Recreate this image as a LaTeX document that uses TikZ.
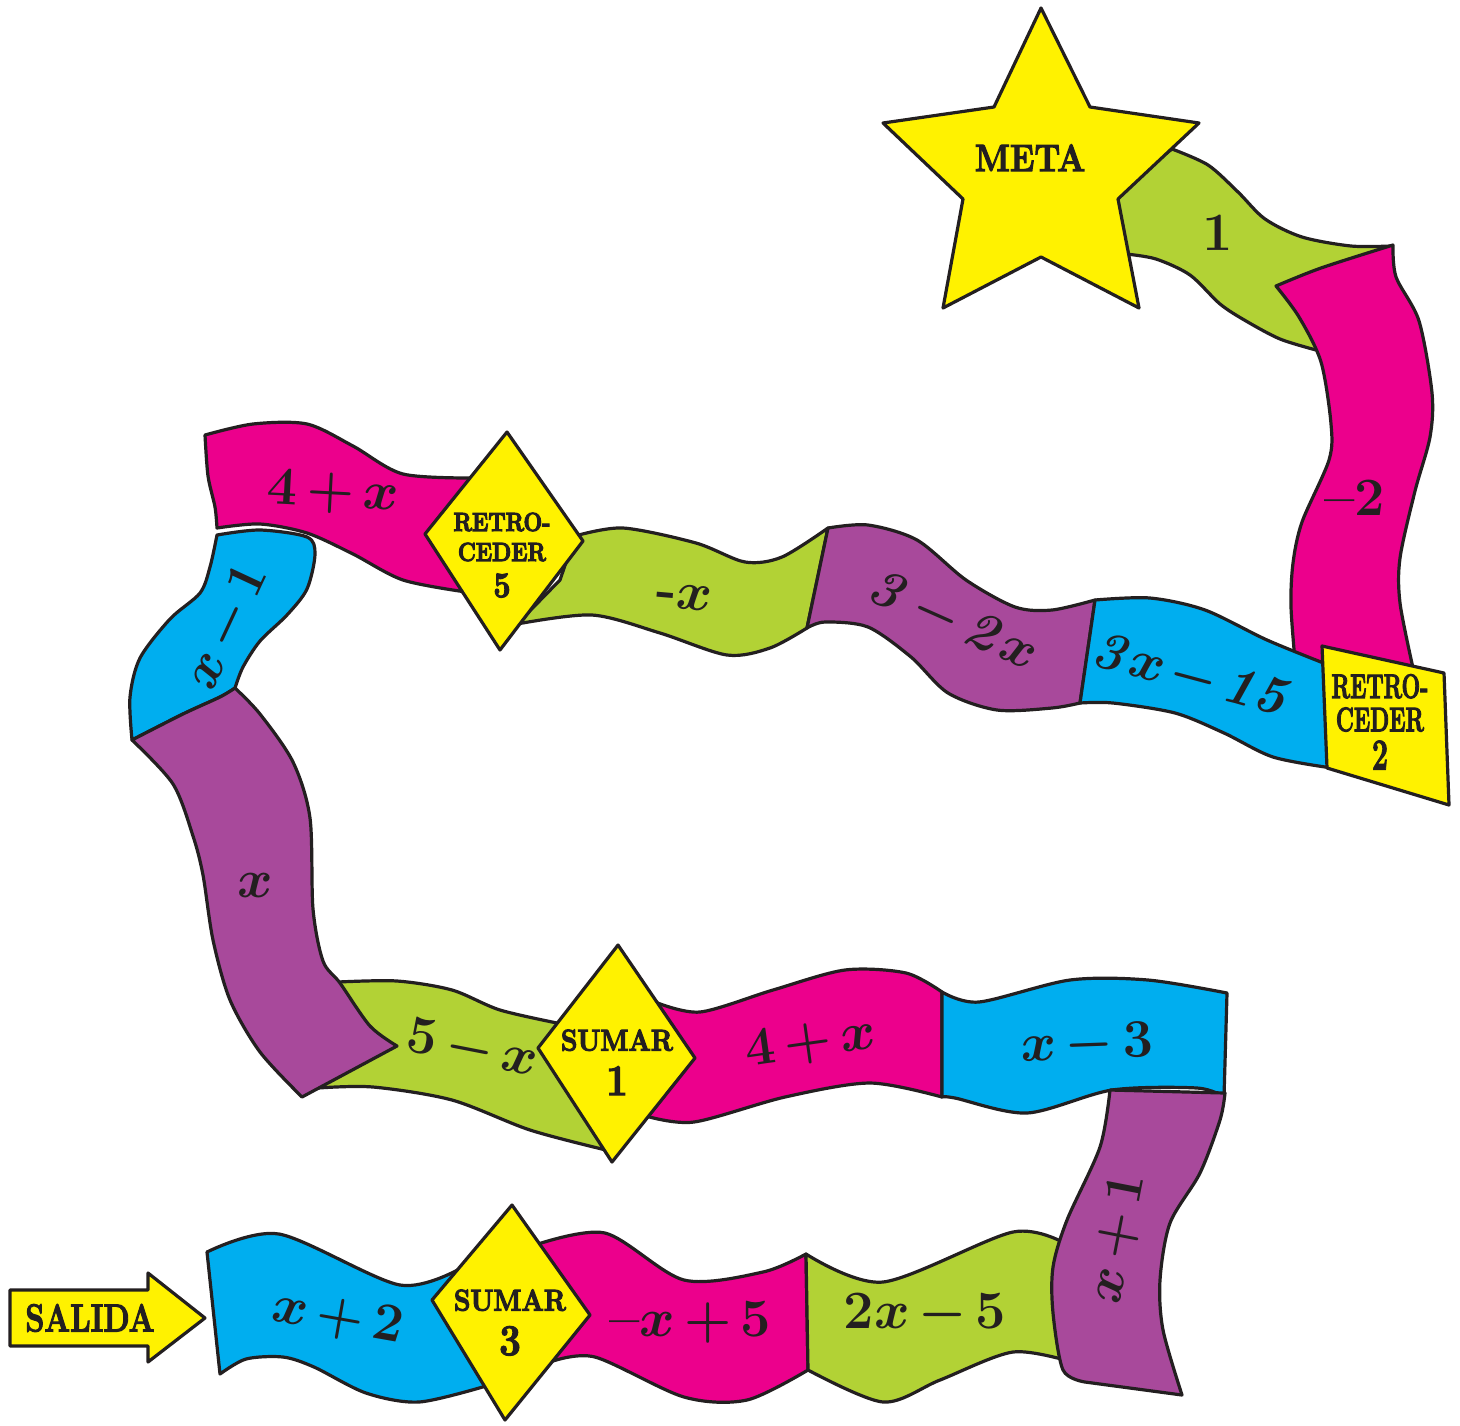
\RequirePackage{fix-cm}
\documentclass[tikz,border=0pt]{standalone}
\usepackage{amsmath}
\usepackage{bm}

\definecolor{amarillo}{HTML}{FFF200}
\definecolor{rosa}{HTML}{EC008C}
\definecolor{celeste}{HTML}{00AEEF}
\definecolor{verde}{HTML}{B2D235}
\definecolor{morado}{HTML}{A8499B}
\definecolor{ink}{HTML}{231F20}

\newcommand{\cmbx}{\fontencoding{OT1}\fontfamily{cmr}\fontseries{bx}\fontshape{n}\selectfont}
\newcommand{\cardfont}[2]{\fontsize{#1}{#2}\cmbx}
\newcommand{\lblfont}{\fontsize{27}{27}\cmbx\medmuskip=3mu\relax}
\newcommand{\heavy}[1]{\special{pdf:literal direct 2 Tr 0.6 w}#1\special{pdf:literal direct 0 Tr}}

\begin{document}
\begin{tikzpicture}[x=0.5pt, y=-0.5pt,
        tile/.style={draw=ink, line width=1.6pt, line join=round},
        card/.style={tile, fill=amarillo},
        lbl/.style={text=ink, inner sep=0pt, font=\lblfont},
        cardlbl/.style={text=ink, inner sep=0pt, transform shape},
        ]

        \useasboundingbox (0,0) rectangle (1460,1425);

        % upper left loop
        \filldraw[tile, fill=rosa] plot[smooth] coordinates {(205,435) (253,424) (307,424) (353,446) (403,474) (476,478)}
          -- (470,540)
          -- plot[smooth] coordinates {(466,592) (403,580) (353,554) (307,533) (260,524) (217,528)}
          -- plot[smooth] coordinates {(217,528) (215,507) (208,476) (205,435)} -- cycle;
        \filldraw[tile, fill=celeste] plot[smooth] coordinates {(217,535) (260,530) (307,537) (315,554) (307,589) (287,615) (260,641) (243,667) (235,688)}
          -- plot[smooth] coordinates {(235,688) (220,697) (183,714) (132,740)}
          -- plot[smooth] coordinates {(132,740) (130,697) (140,658) (170,619) (200,593) (210,567) (217,535)} -- cycle;
        \filldraw[tile, fill=verde] plot[smooth] coordinates {(338,982) (397,981) (452,990) (500,1010) (562,1024)}
          -- (585,1080)
          -- plot[smooth] coordinates {(606,1150) (530,1130) (452,1100) (373,1087) (318,1088)}
          -- (330,1040) -- cycle;
        \filldraw[tile, fill=morado] plot[smooth] coordinates {(132,740) (183,714) (220,697) (235,688)}
          -- plot[smooth] coordinates {(235,688) (260,714) (293,762) (310,818) (313,909) (323,961) (340,983) (370,1026) (397,1046)}
          -- (302,1097)
          -- plot[smooth] coordinates {(302,1097) (260,1052) (230,1000) (213,940) (203,875) (193,836) (173,784) (132,740)} -- cycle;
        \filldraw[tile, fill=verde] plot[smooth] coordinates {(575,536) (623,528) (696,543) (745,562) (782,557) (828,528)}
          -- (807,628)
          -- plot[smooth] coordinates {(807,628) (770,648) (727,655) (660,633) (592,615) (517,624)}
          -- (560,580) -- cycle;
        \filldraw[card] (507,432) -- (583,541) -- (500,650) -- (425,534) -- cycle;
        \filldraw[tile, fill=morado] plot[smooth] coordinates {(828,528) (868,525) (917,540) (966,580) (1015,607) (1052,610) (1095,600)}
          -- (1080,703)
          -- plot[smooth] coordinates {(1080,703) (1052,708) (997,710) (948,693) (911,657) (868,627) (825,622) (807,628)} -- cycle;

        % right column up to the star
        \filldraw[tile, fill=verde] plot[smooth] coordinates {(1172,149) (1208,165) (1238,192) (1265,219) (1302,237) (1351,246) (1391,246)}
          -- (1340,300)
          -- plot[smooth] coordinates {(1316,350) (1280,339) (1246,321) (1220,304) (1190,275) (1156,259) (1126,254)}
          -- (1110,195) -- cycle;
        \filldraw[tile, fill=rosa] plot[smooth] coordinates {(1276,286) (1321,268) (1393,245)}
          -- plot[smooth] coordinates {(1393,245) (1396,277) (1419,321) (1432,393) (1430,437) (1415,491) (1400,558) (1400,603) (1413,668)}
          -- (1350,690)
          -- plot[smooth] coordinates {(1296,672) (1291,607) (1293,563) (1302,522) (1329,460) (1331,424) (1321,362) (1299,317) (1276,286)} -- cycle;
        \filldraw[tile, fill=celeste] plot[smooth] coordinates {(1095,600) (1150,598) (1205,610) (1267,640) (1326,664)}
          -- (1345,710)
          -- plot[smooth] coordinates {(1332,768) (1273,757) (1224,733) (1175,713) (1113,703) (1080,703)} -- cycle;
        \filldraw[card] (1322,646) -- (1444,673) -- (1449,805) -- (1327,768) -- cycle;
        \filldraw[card] (1041,8) -- (1090,107) -- (1199,123) -- (1118,199) -- (1139,308)
          -- (1041,257) -- (943,308) -- (963,199) -- (883,123) -- (994,107) -- cycle;

        % middle row
        \filldraw[tile, fill=rosa] plot[smooth] coordinates {(655,1002) (700,1012) (773,990) (845,970) (906,973) (942,992)}
          -- (942,1097)
          -- plot[smooth] coordinates {(942,1097) (870,1083) (785,1097) (694,1122) (646,1116)}
          -- (640,1060) -- cycle;
        \filldraw[tile, fill=celeste] plot[smooth] coordinates {(942,992) (979,1002) (1070,980) (1148,980) (1227,993)}
          -- (1224,1097)
          -- plot[smooth] coordinates {(1224,1097) (1197,1088) (1112,1090) (1027,1113) (955,1098) (942,1097)} -- cycle;
        \filldraw[card] (618,945) -- (695,1058) -- (612,1162) -- (538,1048) -- cycle;

        % bottom row
        \filldraw[tile, fill=rosa] plot[smooth] coordinates {(535,1245) (605,1233) (684,1280) (763,1272) (806,1254)}
          -- (808,1370)
          -- plot[smooth] coordinates {(808,1370) (747,1400) (684,1397) (595,1357) (550,1362)}
          -- (540,1300) -- cycle;
        \filldraw[tile, fill=verde] plot[smooth] coordinates {(806,1254) (883,1282) (1013,1232) (1068,1245)}
          -- (1090,1300)
          -- plot[smooth] coordinates {(1072,1362) (1013,1352) (940,1380) (883,1402) (808,1370)} -- cycle;
        \filldraw[tile, fill=morado] plot[smooth] coordinates {(1110,1090) (1100,1147) (1067,1220) (1053,1267) (1053,1313) (1063,1370) (1085,1382)}
          -- (1182,1395)
          -- plot[smooth] coordinates {(1182,1395) (1163,1330) (1160,1280) (1170,1223) (1200,1173) (1220,1120) (1225,1093)} -- cycle;
        \filldraw[tile, fill=celeste] plot[smooth] coordinates {(207,1252) (279,1234) (400,1285) (465,1266)}
          -- (500,1310)
          -- plot[smooth] coordinates {(486,1386) (419,1402) (366,1393) (314,1367) (283,1357) (246,1359) (220,1374)} -- cycle;
        \filldraw[card] (512,1205) -- (590,1315) -- (505,1420) -- (432,1300) -- cycle;
        \filldraw[card] (10,1290) -- (148,1290) -- (148,1273) -- (205,1318)
          -- (148,1362) -- (148,1346) -- (10,1346) -- cycle;

        \node (salida) [cardlbl, xscale=.78, font=\cardfont{19.5}{20}] at (90,1318) {\heavy{SALIDA}};
        \node (xmas2) [lbl, rotate=-10] at (338,1318) {$\bm{x+2}$};
        \node (sumar3) [cardlbl, xscale=.88, font=\cardfont{15}{17}] at (510,1326) {\heavy{\begin{tabular}{@{}c@{}}SUMAR\\[3pt] \fontsize{22}{22}\selectfont 3\end{tabular}}};
        \node (menosxmas5) [lbl] at (690,1322) {--$\bm{x+5}$};
        \node (dosxmenos5) [lbl] at (925,1315) {$\bm{2x-5}$};
        \node (xmas1) [lbl, rotate=79] at (1118,1238) {$\bm{x+1}$};
        \node (xmenos3) [lbl, rotate=2] at (1087,1045) {$\bm{x-3}$};
        \node (cuatromasx) [lbl, rotate=8] at (811,1043) {$\bm{4+x}$};
        \node (sumar1) [cardlbl, xscale=.88, font=\cardfont{15}{17}] at (617,1066) {\heavy{\begin{tabular}{@{}c@{}}SUMAR\\[3pt] \fontsize{22}{22}\selectfont 1\end{tabular}}};
        \node (cincomenosx) [lbl, rotate=-11] at (472,1050) {$\bm{5-x}$};
        \node (equis) [lbl] at (255,885) {$\bm{x}$};
        \node (xmenos1) [lbl, rotate=65] at (228,627) {$\bm{x-1}$};
        \node (cuatromasxb) [lbl, rotate=-3] at (333,493) {$\bm{4+x}$};
        \node (retro5) [cardlbl, xscale=.85, font=\cardfont{13}{15}] at (502,558) {\heavy{\begin{tabular}{@{}c@{}}RETRO-\\CEDER\\[2pt] \fontsize{18}{18}\selectfont 5\end{tabular}}};
        \node (menosx) [lbl, rotate=-5] at (684,597) {-$\bm{x}$};
        \node (tresmenos2x) [lbl, rotate=-24] at (952,622) {\textit{3}$\bm{{}-{}}$\textit{2}$\bm{x}$};
        \node (tresxmenos15) [lbl, rotate=-15] at (1192,678) {\medmuskip=2mu\textit{3}$\bm{x-{}}$\textit{15}};
        \node (retro2) [cardlbl, xscale=.65, font=\cardfont{17}{16.5}] at (1380,727) {\heavy{\begin{tabular}{@{}c@{}}RETRO-\\CEDER\\ \fontsize{22}{22}\selectfont 2\end{tabular}}};
        \node (menos2) [lbl] at (1355,498) {--2};
        \node (uno) [lbl] at (1218,233) {1};
        \node (meta) [cardlbl, xscale=.87, font=\cardfont{19}{19}] at (1030,158) {\heavy{META}};
\end{tikzpicture}
\end{document}
